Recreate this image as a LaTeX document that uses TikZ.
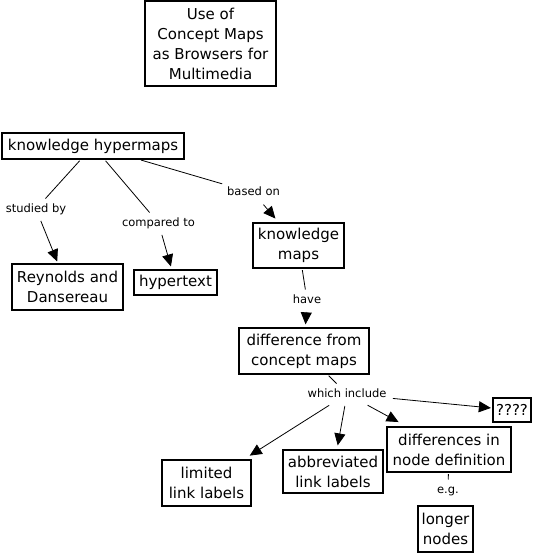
\documentclass[tikz,border=0pt]{standalone}
\usepackage{fontspec}
\setmainfont{DejaVu Sans}
\usetikzlibrary{arrows.meta}
\begin{document}
\begin{tikzpicture}[x=1pt,y=-1pt,
  box/.style={draw,line width=1.3pt,inner sep=0pt,align=center,font=\fontsize{15}{20}\selectfont},
  lbl/.style={inner sep=1pt,outer sep=4pt,font=\fontsize{11.5}{13}\selectfont,text height=8.5pt,text depth=2.5pt},
  conn/.style={line width=0.8pt,shorten <=1.5pt},
  arr/.style={conn,-{Triangle[length=12pt,width=11pt]},shorten >=2pt}]
\useasboundingbox (0,0) rectangle (533,553);
% concept boxes
\node[box,minimum width=131pt,minimum height=85pt] (title) at (210.5,43.5) {Use of\\Concept Maps\\as Browsers for\\Multimedia};
\node[box,minimum width=182pt,minimum height=26pt] (khm) at (93,146) {knowledge hypermaps};
\node[box,minimum width=111pt,minimum height=46pt] (rey) at (67.5,287) {Reynolds and\\Dansereau};
\node[box,minimum width=83pt,minimum height=25pt] (hyp) at (175.5,282.5) {hypertext};
\node[box,minimum width=91pt,minimum height=45pt] (km) at (298.5,245.5) {knowledge\\maps};
\node[box,minimum width=130pt,minimum height=46pt] (diff) at (304,351) {difference from\\concept maps};
\node[box,minimum width=38pt,minimum height=24pt] (q) at (512,410) {????};
\node[box,minimum width=124pt,minimum height=45pt] (dnd) at (449,449.5) {differences in\\node definition};
\node[box,minimum width=100pt,minimum height=43pt] (abb) at (333,471.5) {abbreviated\\link labels};
\node[box,minimum width=89pt,minimum height=46pt] (lim) at (206.5,483) {limited\\link labels};
\node[box,minimum width=55pt,minimum height=46pt] (lon) at (445.5,529) {longer\\nodes};
% link labels
\node[lbl] (sb) at (36,209) {studied by};
\node[lbl] (ct) at (158.5,223) {compared to};
\node[lbl] (bo) at (253.5,193) {based on};
\node[lbl] (have) at (307,300) {have};
\node[lbl] (wi) at (347,394) {which include};
\node[lbl] (eg) at (448,490) {e.g.};
% connectors
\draw[conn] (khm) -- (sb);
\draw[arr] (sb) -- (rey);
\draw[conn] (khm) -- (ct);
\draw[arr,shorten >=3pt] (ct) -- (hyp);
\draw[conn] (khm) -- (bo);
\draw[arr,shorten >=5pt] (bo) -- (km);
\draw[conn] (km) -- (have);
\draw[arr,shorten >=3pt] (have) -- (diff);
\draw[conn] (diff) -- (wi);
\draw[arr,shorten >=1.5pt] (wi) -- (q);
\draw[arr,shorten >=9pt] (wi) -- (dnd);
\draw[arr,shorten >=4pt] (wi) -- (abb);
\draw[arr,shorten >=7pt] (wi) -- (lim);
\draw[conn] (dnd) -- (eg);
\end{tikzpicture}
\end{document}
